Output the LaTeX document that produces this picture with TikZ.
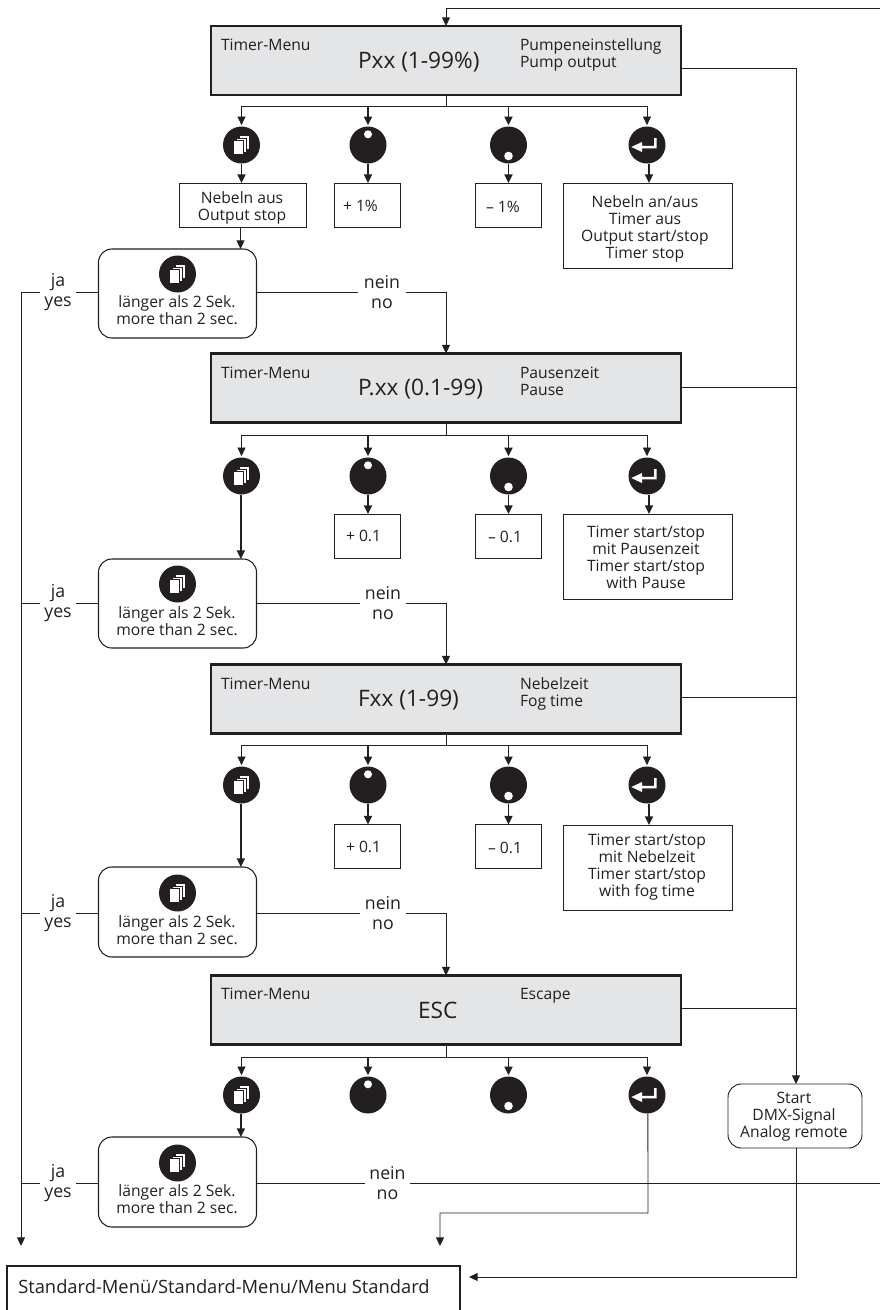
\documentclass[tikz,border=0pt]{standalone}
\usepackage{fontspec}
\setmainfont{Open Sans}
\usetikzlibrary{arrows.meta,calc}
\definecolor{ink}{HTML}{231F20}
\definecolor{panel}{HTML}{E4E5E7}
\newcommand{\pxu}{0.75pt}
\newcommand{\smallfont}{\fontsize{11.75pt}{12.75pt}\selectfont}
\newcommand{\bigfont}{\fontsize{17pt}{20pt}\selectfont}
\newcommand{\branchfont}{\fontsize{13.3pt}{15pt}\selectfont}
\newcommand{\stdfont}{\fontsize{13.75pt}{15pt}\selectfont}
\tikzset{
  wire/.style={draw=ink,line width=0.7pt},
  arr/.style={wire,-{Triangle[length=6.5pt,width=6pt]}},
  harr/.style={draw=ink,line width=1.3pt,-{Triangle[length=6.5pt,width=6pt]}},
  menubox/.style={draw=ink,fill=panel,line width=1.7pt,minimum width=470*\pxu,minimum height=69*\pxu,inner sep=0pt,outer sep=0pt},
  infobox/.style={draw=ink,line width=0.7pt,minimum height=44*\pxu,inner sep=0pt,outer sep=0pt},
  decide/.style={draw=ink,line width=0.8pt,rounded corners=10pt,minimum width=158*\pxu,minimum height=90*\pxu,inner sep=0pt,outer sep=0pt},
  btn/.style={circle,fill=ink,minimum size=37*\pxu,inner sep=0pt,outer sep=0pt},
  txt/.style={inner sep=0pt,outer sep=0pt,text=ink,font=\smallfont},
  ctxt/.style={txt,align=center,anchor=base},
  ltxt/.style={txt,align=left,anchor=base west},
  big/.style={inner sep=0pt,outer sep=0pt,text=ink,font=\bigfont,anchor=base west},
  branch/.style={inner sep=0pt,outer sep=0pt,text=ink,font=\branchfont,align=center},
}
\newcommand{\pagesicon}[1]{%
  \foreach \k in {2,1,0}{
    \draw[draw=ink,fill=white,line width=0.3pt]
      ($(#1)+(-8.5+2.9*\k,-5-2.3*\k)$) rectangle ($(#1)+(1.5+2.9*\k,9-2.3*\k)$);
  }}
\newcommand{\entericon}[1]{%
  \fill[white] ($(#1)+(-15.7,2)$) -- ($(#1)+(-5,-3)$) -- ($(#1)+(-5,0.9)$) -- ($(#1)+(7,0.9)$) -- ($(#1)+(7,-7)$) -- ($(#1)+(9.5,-7)$) -- ($(#1)+(9.5,3.3)$) -- ($(#1)+(-5,3.3)$) -- ($(#1)+(-5,7)$) -- cycle;}
\newcommand{\updot}[1]{\fill[white] ($(#1)+(0,-10.7)$) circle[radius=4];}
\newcommand{\downdot}[1]{\fill[white] ($(#1)+(0,11)$) circle[radius=4.3];}
\newcommand{\buttons}[3]{%
  \node[btn] (a#1) at (241.5,#2) {};
  \node[btn] (b#1) at (368,#2) {};
  \node[btn] (c#1) at (508.5,#2) {};
  \node[btn] (e#1) at (647,#2) {};
  \pagesicon{a#1}\updot{b#1}\downdot{c#1}\entericon{e#1}
  \coordinate (bus#1) at (446,#3);
  \draw[wire] (m#1.south) -- (bus#1);
  \draw[wire] (a#1 |- bus#1) -- (e#1 |- bus#1);
  \draw[arr,shorten >=1pt] (a#1 |- bus#1) -- (a#1.north);
  \draw[harr,shorten >=1pt] (b#1 |- bus#1) -- (b#1.north);
  \draw[harr,shorten >=1pt] (c#1 |- bus#1) -- (c#1.north);
  \draw[arr,shorten >=1pt] (e#1 |- bus#1) -- (e#1.north);
}
% #1 id, #2 top y, #3 icon y, #4 branch y, #5 last text baseline, #6 bottom y
\newcommand{\decision}[6]{%
  \node[decide,minimum height=(#6-#2)*\pxu] (d#1) at (177.5,{(#2+#6)/2}) {};
  \node[btn] (i#1) at (177.5,#3) {};
  \pagesicon{i#1}
  \node[ctxt] (t#1) at (177,#5) {länger als 2 Sek.\\more than 2 sec.};
  \node[branch,minimum width=36*\pxu] (j#1) at (58,#4) {ja\\yes};
  \draw[wire] (d#1.west |- j#1) -- (j#1.east);
  \draw[wire] (j#1.west) -- (j#1.west -| tl);
}
\begin{document}
\begin{tikzpicture}[x=0.75pt,y=-0.75pt]
\useasboundingbox (0,0) rectangle (880,1310);
\coordinate (tl) at (21,292);
\coordinate (tlend) at (21,1246);
\coordinate (tr) at (796,68);
\coordinate (topright) at (880,8);

% Menu boxes
\node[menubox] (m1) at (446,60.5) {};
\node[ltxt] (m1l) at (221,50) {Timer-Menu};
\node[big] (m1t) at (358,68) {Pxx (1-99\%)};
\node[ltxt] (m1r) at (520,67) {Pumpeneinstellung\\Pump output};

\node[menubox] (m2) at (446,388) {};
\node[ltxt] (m2l) at (221,378) {Timer-Menu};
\node[big] (m2t) at (358,395) {P.xx (0.1-99)};
\node[ltxt] (m2r) at (520,395) {Pausenzeit\\Pause};

\node[menubox] (m3) at (446,699) {};
\node[ltxt] (m3l) at (221,689) {Timer-Menu};
\node[big] (m3t) at (358,706) {Fxx (1-99)};
\node[ltxt] (m3r) at (520,706) {Nebelzeit\\Fog time};

\node[menubox] (m4) at (446,1010) {};
\node[ltxt] (m4l) at (221,999) {Timer-Menu};
\node[big] (m4t) at (418,1018) {ESC};
\node[ltxt] (m4r) at (520,999) {Escape};

% Buttons and bus lines
\buttons{1}{145}{106}
\buttons{2}{476}{435}
\buttons{3}{785}{745}
\buttons{4}{1095}{1057}

% Result boxes, section 1
\node[infobox,minimum width=127*\pxu] (x1a) at (242.5,205) {};
\node[ctxt] (x1at) at (242,220) {Nebeln aus\\Output stop};
\node[infobox,minimum width=66*\pxu] (x1b) at (367,205) {};
\node[ltxt] (x1bt) at (343,211) {+ 1\%};
\node[infobox,minimum width=66*\pxu] (x1c) at (508,205) {};
\node[ltxt] (x1ct) at (486,212) {– 1\%};
\node[infobox,minimum width=169*\pxu,minimum height=85*\pxu] (x1e) at (647.5,225.5) {};
\node[ctxt] (x1et) at (645,258) {Nebeln an/aus\\Timer aus\\Output start/stop\\Timer stop};
% section 2
\node[infobox,minimum width=66*\pxu] (x2b) at (367,536) {};
\node[ltxt] (x2bt) at (346,541) {+ 0.1};
\node[infobox,minimum width=66*\pxu] (x2c) at (508,536) {};
\node[ltxt] (x2ct) at (488,542) {– 0.1};
\node[infobox,minimum width=169*\pxu,minimum height=85*\pxu] (x2e) at (647.5,556.5) {};
\node[ctxt] (x2et) at (646,588) {Timer start/stop\\mit Pausenzeit\\Timer start/stop\\with Pause};
% section 3
\node[infobox,minimum width=66*\pxu] (x3b) at (367,846.5) {};
\node[ltxt] (x3bt) at (346,852) {+ 0.1};
\node[infobox,minimum width=66*\pxu] (x3c) at (508,846.5) {};
\node[ltxt] (x3ct) at (488,853) {– 0.1};
\node[infobox,minimum width=169*\pxu,minimum height=85*\pxu] (x3e) at (647.5,867.5) {};
\node[ctxt] (x3et) at (647,896) {Timer start/stop\\mit Nebelzeit\\Timer start/stop\\with fog time};

% Decisions
\decision{1}{249}{274}{292.5}{324}{338}
\decision{2}{559}{584}{603}{635}{648}
\decision{3}{867}{893}{913}{944}{957}
\decision{4}{1137}{1163}{1183}{1213}{1227}

% Button to result arrows
\draw[harr] (a1.south) -- (a1.south |- x1a.north);
\draw[arr] ([xshift=-1.5pt]x1a.south) -- ([xshift=-1.5pt]x1a.south |- d1.north);
\foreach \s in {1,2,3}{
  \draw[harr] (b\s.south) -- (b\s.south |- x\s b.north);
  \draw[harr] (c\s.south) -- (c\s.south |- x\s c.north);
  \draw[harr] ([xshift=1.5pt]e\s.south) -- ([xshift=1.5pt]e\s.south |- x\s e.north);
}
\draw[harr] ([xshift=-0.5pt]a2.south) -- ([xshift=-0.5pt]a2.south |- d2.north);
\draw[harr] ([xshift=-0.5pt]a3.south) -- ([xshift=-0.5pt]a3.south |- d3.north);
\draw[harr] ([xshift=-0.5pt]a4.south) -- ([xshift=-0.5pt]a4.south |- d4.north);

% nein / no
\node[branch,minimum width=48*\pxu] (n1) at (382,292.5) {nein\\no};
\node[branch,minimum width=46*\pxu] (n2) at (383,603) {nein\hspace{3pt}\\no};
\node[branch,minimum width=46*\pxu] (n3) at (383,913) {nein\hspace{3pt}\\no};
\node[branch,minimum width=45*\pxu] (n4) at (387.5,1183) {nein\\no};
\draw[wire] (d1.east |- n1) -- (n1.west);
\draw[wire] (d2.east |- n2) -- (n2.west);
\draw[wire] (d3.east |- n3) -- (n3.west);
\draw[wire] (d4.east |- n4) -- (n4.west);
\draw[arr] (n1.east) -| (m2.north);
\draw[arr] (n2.east) -| (m3.north);
\draw[arr] (n3.east) -| (m4.north);
\coordinate (exit) at (880,1183);
\draw[wire] (n4.east) -- (exit);

% Outer left return
\draw[arr] (tl) -- (tlend);

% Top feedback
\draw[arr] (topright) -| (m1.north);

% Right trunk and start box
\node[infobox,rounded corners=10pt,minimum width=134*\pxu,minimum height=64*\pxu] (st) at (795,1116) {};
\node[ctxt] (stt) at (794,1137) {Start\\DMX-Signal\\Analog remote};
\draw[wire] (tr -| m1.east) -- (tr);
\draw[wire] ($(m2.east)+(0,-1)$) -- ($(m2.east)+(115,-1)$);
\draw[wire] ($(m3.east)+(0,-2)$) -- ($(m3.east)+(115,-2)$);
\draw[wire] ($(m4.east)+(0,-2)$) -- ($(m4.east)+(115,-2)$);
\draw[arr] (tr) -- (tr |- st.north);

% Enter of last section
\coordinate (ret) at (648,1213);
\coordinate (retend) at (440,1246);
\draw[arr] ([xshift=0.7pt]e4.south) -- (ret) -| (retend);

% Standard menu
\node[inner sep=0pt,outer sep=0pt,minimum width=453*\pxu,minimum height=44*\pxu] (std) at (233.5,1288) {};
\draw[draw=ink,line width=1.7pt] (std.south west) -- (std.north west) -- (std.north east) -- (std.south east);
\node[inner sep=0pt,text=ink,font=\stdfont,anchor=base west] (stdt) at (18,1293) {Standard-Menü/Standard-Menu/Menu Standard};
\coordinate (stdin) at (469,1277);
\coordinate (stdc) at (796,1277);
\draw[arr] (tr |- st.south) -- (stdc) -- (stdin);
\end{tikzpicture}
\end{document}
